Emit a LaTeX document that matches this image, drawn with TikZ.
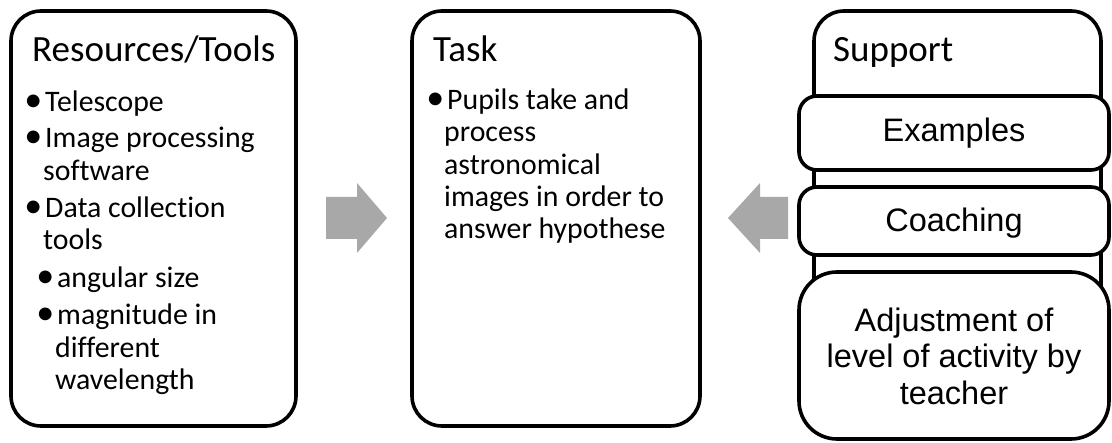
\documentclass[tikz,border=0pt]{standalone}
\usepackage{fontspec}
\setmainfont[Ligatures=NoCommon]{Carlito}
\newfontfamily\sansarial{Liberation Sans}
\newcommand{\bul}{\llap{{\fontsize{36}{36}\selectfont •}\hspace{3pt}}}
\tikzset{
  panel/.style={draw=black, line width=3.6pt, rounded corners=30pt, fill=white},
  subpanel/.style={draw=black, line width=3.6pt, rounded corners=18pt, fill=white},
  bigsub/.style={draw=black, line width=3.6pt, rounded corners=38pt, fill=white},
  head/.style={anchor=base west, inner sep=0pt, font=\fontsize{37}{40}\selectfont},
  txt/.style={anchor=base west, inner sep=0pt, font=\fontsize{29.8}{32}\selectfont},
  sub/.style={anchor=base, inner sep=0pt, font=\sansarial\fontsize{32.5}{36.5}\selectfont},
  blockarrow/.style={fill=black!34, draw=none}
}
\begin{document}
\begin{tikzpicture}[x=1pt, y=-1pt]
\useasboundingbox (0,0) rectangle (1112,443);

% Resources / Tools panel
\draw[panel] (11,11) rectangle (296,426);
\node[head] (resh) at (32,62) {Resources/Tools};
\node[txt] (r1) at (45,112) {\bul Telescope};
\node[txt] (r2) at (45,148) {\bul Image processing};
\node[txt] (r3) at (43,181) {software};
\node[txt] (r4) at (45,218) {\bul Data collection};
\node[txt] (r5) at (43,250) {tools};
\node[txt] (r6) at (57,288) {\bul angular size};
\node[txt] (r7) at (57,325) {\bul magnitude in};
\node[txt] (r8) at (55,358) {different};
\node[txt] (r9) at (55,390) {wavelength};

% Task panel
\draw[panel] (412,11) rectangle (700,426);
\node[head] (taskh) at (433,62) {Task};
\node[txt] (t1) at (447,110) {\bul Pupils take and};
\node[txt] (t2) at (444,142) {process};
\node[txt] (t3) at (444,175) {astronomical};
\node[txt] (t4) at (444,207) {images in order to};
\node[txt] (t5) at (444,239) {answer hypothese};

% Support panel with its stacked sub-boxes
\draw[panel] (814,11) rectangle (1101,420);
\node[head] (suph) at (833,62) {Support};
\draw[subpanel] (799,96) rectangle (1109,170);
\node[sub] (ex) at (954,142) {Examples};
\draw[subpanel] (799,187) rectangle (1109,255);
\node[sub] (co) at (954,232) {Coaching};
\draw[bigsub] (799,272) rectangle (1109,439);
\node[sub] (ad1) at (954,332) {Adjustment of};
\node[sub] (ad2) at (954,368) {level of activity by};
\node[sub] (ad3) at (954,405) {teacher};

% Block arrows pointing into the task
\fill[blockarrow] (326,197) -- (357,197) -- (357,183) -- (387,218) -- (357,253) -- (357,239) -- (326,239) -- cycle;
\fill[blockarrow] (788,197) -- (760,197) -- (760,183) -- (728,218) -- (760,253) -- (760,239) -- (788,239) -- cycle;
\end{tikzpicture}
\end{document}
